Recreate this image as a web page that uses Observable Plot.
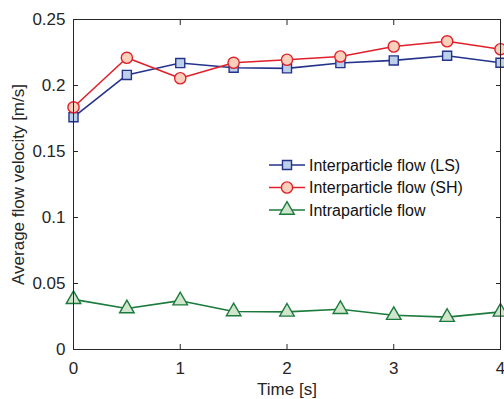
<!DOCTYPE html>
<html>
<head>
<meta charset="utf-8">
<script src="https://cdn.jsdelivr.net/npm/d3@7"></script>
<script src="https://cdn.jsdelivr.net/npm/@observablehq/plot@0.6"></script>
<style>
  html, body { margin: 0; padding: 0; background: #fff; }
  #wrap { position: relative; width: 504px; height: 399px; font-family: "Liberation Sans", Arial, Helvetica, sans-serif; }
  #legend { position: absolute; left: 262px; top: 152px; }
</style>
</head>
<body>
<div id="wrap"></div>
<script>
const time = [0, 0.5, 1, 1.5, 2, 2.5, 3, 3.5, 4];
const interLS = [0.176, 0.208, 0.217, 0.2135, 0.213, 0.217, 0.219, 0.2225, 0.2172];
const interSH = [0.1835, 0.221, 0.2055, 0.2172, 0.2195, 0.222, 0.2295, 0.2335, 0.2275];
const intra = [0.038, 0.031, 0.037, 0.0288, 0.0285, 0.0305, 0.026, 0.0245, 0.0285];
const seriesNames = ["Interparticle flow (LS)", "Interparticle flow (SH)", "Intraparticle flow"];
const xTicks = [0, 1, 2, 3, 4];
const xTickLabels = ["0", "1", "2", "3", "4"];
const yTicks = [0, 0.05, 0.1, 0.15, 0.2, 0.25];
const yTickLabels = ["0", "0.05", "0.1", "0.15", "0.2", "0.25"];
const xLabel = "Time [s]";
const yLabel = "Average flow velocity [m/s]";

const styles = [
  {stroke: "#25338c", fill: "#bcd0ea", symbol: "square", r: 5.1},
  {stroke: "#e0212b", fill: "#f8d0bb", symbol: "circle", r: 5.6},
  {stroke: "#1b7a3c", fill: "#cfe6cc", symbol: "triangle", r: 5.4}
];
const seriesValues = [interLS, interSH, intra];
const rows = seriesValues.map((vals, s) => time.map((t, i) => ({t, v: vals[i], s})));

const axisColor = "#262626";
const font = "\"Liberation Sans\", Arial, Helvetica, sans-serif";

const marks = [];
rows.forEach((data, s) => {
  marks.push(Plot.line(data, {x: "t", y: "v", stroke: styles[s].stroke, strokeWidth: 1.6}));
});
rows.forEach((data, s) => {
  marks.push(Plot.dot(data, {x: "t", y: "v", symbol: styles[s].symbol, r: styles[s].r,
    fill: styles[s].fill, stroke: styles[s].stroke, strokeWidth: 1.4}));
});
marks.push(
  Plot.axisX({ticks: xTicks, tickSize: -5, tickFormat: () => "", anchor: "bottom", label: null, stroke: axisColor}),
  Plot.axisX({ticks: xTicks, tickSize: -5, tickFormat: () => "", anchor: "top", label: null, stroke: axisColor}),
  Plot.axisY({ticks: yTicks, tickSize: -5, tickFormat: () => "", anchor: "left", label: null, stroke: axisColor}),
  Plot.axisY({ticks: yTicks, tickSize: -5, tickFormat: () => "", anchor: "right", label: null, stroke: axisColor}),
  Plot.axisX({ticks: xTicks, tickSize: 0, tickPadding: 12, tickFormat: (d, i) => xTickLabels[i], anchor: "bottom", label: null, fill: axisColor}),
  Plot.axisY({ticks: yTicks, tickSize: 0, tickPadding: 8, tickFormat: (d, i) => yTickLabels[i], anchor: "left", label: null, fill: axisColor}),
  Plot.frame({stroke: axisColor, strokeWidth: 1}),
  Plot.text([xLabel], {text: d => d, frameAnchor: "bottom", textAnchor: "middle", lineAnchor: "top", dy: 33, fill: axisColor, fontSize: 17}),
  Plot.text([yLabel], {text: d => d, frameAnchor: "left", textAnchor: "middle", rotate: -90, dx: -55, fill: axisColor, fontSize: 17})
);

const chart = Plot.plot({
  width: 504,
  height: 399,
  marginLeft: 73,
  marginRight: 4,
  marginTop: 19,
  marginBottom: 50,
  x: {domain: [0, 4]},
  y: {domain: [0, 0.25]},
  style: {fontFamily: font, fontSize: "17px", color: axisColor, background: "#fff", overflow: "visible"},
  marks
});
document.getElementById("wrap").appendChild(chart);

// legend
const lg = d3.select("#wrap").append("svg").attr("id", "legend")
  .attr("width", 240).attr("height", 70);
const rowH = 22.5;
seriesNames.forEach((name, s) => {
  const g = lg.append("g").attr("transform", `translate(0, ${13 + s * rowH})`);
  g.append("line").attr("x1", 7).attr("x2", 43).attr("y1", 0).attr("y2", 0)
    .attr("stroke", styles[s].stroke).attr("stroke-width", 1.6);
  const sym = {square: d3.symbolSquare, circle: d3.symbolCircle, triangle: d3.symbolTriangle}[styles[s].symbol];
  g.append("path").attr("d", d3.symbol(sym, Math.PI * styles[s].r * styles[s].r)())
    .attr("transform", "translate(25,0)")
    .attr("fill", styles[s].fill).attr("stroke", styles[s].stroke).attr("stroke-width", 1.4);
  g.append("text").attr("x", 47).attr("y", 0).attr("dy", "0.35em")
    .attr("font-family", font).attr("font-size", 16).attr("fill", "#111")
    .text(name);
});
</script>
</body>
</html>
